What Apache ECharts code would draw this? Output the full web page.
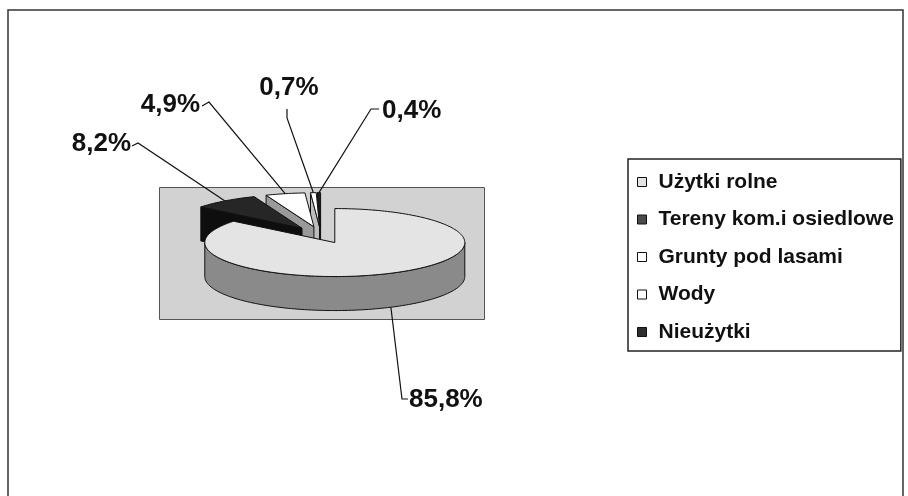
<!DOCTYPE html>
<html>
	<head>
		<meta charset="utf-8" />
		<title>Struktura użytkowania gruntów</title>
		<style>
			html, body {
				width: 100%;
				height: 100%;
				margin: 0;
				padding: 0;
				background: #fff;
			}
			#main {
				width: 908px;
				height: 496px;
			}
		</style>
	</head>
	<body>
		<div id="main"></div>
		<script src="https://cdn.jsdelivr.net/npm/echarts@6/dist/echarts.min.js"></script>
		<script>
			// dane
			var categories = ['Użytki rolne', 'Tereny kom.i osiedlowe', 'Grunty pod lasami', 'Wody', 'Nieużytki'];
			var shares = [85.8, 8.2, 4.9, 0.7, 0.4];

			// wygląd plastrów
			var topColors = ['#e4e4e4', '#262626', '#ffffff', '#ffffff', '#1e1e1e'];
			var sideColors = ['#8a8a8a', '#0e0e0e', '#9a9a9a', '#bdbdbd', '#0e0e0e'];
			var legendColors = ['#e4e4e4', '#4a4a4a', '#ffffff', '#ffffff', '#2e2e2e'];

			// położenie etykiet i linii odniesienia
			var labelLayout = [
				{ x: 409, y: 400, align: 'left', elbow: [402, 399], end: [408, 399] },
				{ x: 131, y: 144, align: 'right', elbow: [138, 143], end: [132, 146] },
				{ x: 200, y: 105, align: 'right', elbow: [209, 102], end: [202, 106] },
				{ x: 289, y: 88, align: 'center', elbow: [287, 118], end: [287, 109] },
				{ x: 382, y: 111, align: 'left', elbow: [371, 109], end: [379, 109] }
			];

			var CX = 321, CY = 235, RX = 130, RY = 34, DEPTH = 34, EXPLODE = 32;
			var K = RY / RX;
			var total = shares.reduce(function (a, b) { return a + b; }, 0);
			var startFrac = [];
			var acc = 0;
			for (var i = 0; i < shares.length; i++) {
				startFrac.push(acc / total);
				acc += shares[i];
			}

			function rad(d) { return d * Math.PI / 180; }

			function arc(c, a0, a1, h) {
				var pts = [];
				var n = Math.max(2, Math.ceil(Math.abs(a0 - a1) / 1.5));
				for (var j = 0; j <= n; j++) {
					var t = rad(a0 + (a1 - a0) * j / n);
					pts.push([c[0] + RX * Math.cos(t), c[1] - RY * Math.sin(t) + h]);
				}
				return pts;
			}

			function pctText(v) {
				return v.toFixed(1).replace('.', ',') + '%';
			}

			function makeRender(idx) {
				return function (params, api) {
					var v = api.value(0);
					var a0 = 90 - 360 * startFrac[idx];
					var a1 = a0 - 360 * v / total;
					var mid = (a0 + a1) / 2;
					var c = [CX + EXPLODE * Math.cos(rad(mid)), CY - EXPLODE * K * Math.sin(rad(mid))];
					var children = [];
					var edge = { stroke: '#111', lineWidth: 1 };

					// ściany boczne (promieniowe)
					[[a0, Math.cos(rad(a0)) < -1e-6], [a1, Math.cos(rad(a1)) > 1e-6]].forEach(function (w) {
						if (!w[1]) return;
						var t = rad(w[0]);
						var p = [c[0] + RX * Math.cos(t), c[1] - RY * Math.sin(t)];
						children.push({
							type: 'polygon',
							shape: { points: [c, p, [p[0], p[1] + DEPTH], [c[0], c[1] + DEPTH]] },
							style: { fill: sideColors[idx], stroke: edge.stroke, lineWidth: edge.lineWidth }
						});
					});

					// ściana zewnętrzna – tylko przednia część
					for (var k = -3; k <= 2; k++) {
						var lo = Math.max(a1, 360 * k + 180);
						var hi = Math.min(a0, 360 * k + 360);
						if (hi - lo > 0.01) {
							var pts = arc(c, hi, lo, 0).concat(arc(c, hi, lo, DEPTH).reverse());
							children.push({
								type: 'polygon',
								shape: { points: pts },
								style: { fill: sideColors[idx], stroke: edge.stroke, lineWidth: edge.lineWidth }
							});
						}
					}

					// wierzch
					children.push({
						type: 'polygon',
						shape: { points: [c].concat(arc(c, a0, a1, 0)) },
						style: { fill: topColors[idx], stroke: edge.stroke, lineWidth: edge.lineWidth }
					});

					// linia odniesienia i etykieta
					var tm = rad(mid);
					var front = Math.sin(tm) < 0;
					var anchor = [c[0] + RX * Math.cos(tm), c[1] - RY * Math.sin(tm) + (front ? DEPTH : 0)];
					var L = labelLayout[idx];
					children.push({
						type: 'polyline',
						shape: { points: [anchor, L.elbow, L.end] },
						style: { stroke: '#111', lineWidth: 1.2, fill: null }
					});
					children.push({
						type: 'text',
						style: {
							text: pctText(v),
							x: L.x,
							y: L.y,
							align: L.align,
							verticalAlign: 'middle',
							font: 'bold 26px "Liberation Sans", Arial, sans-serif',
							fill: '#111'
						}
					});
					return { type: 'group', children: children };
				};
			}

			// kolejność rysowania: od tyłu do przodu
			var order = categories.map(function (n, i) { return i; });
			order.sort(function (p, q) {
				var mp = 90 - 360 * (startFrac[p] + shares[p] / total / 2);
				var mq = 90 - 360 * (startFrac[q] + shares[q] / total / 2);
				return Math.sin(rad(mq)) - Math.sin(rad(mp));
			});

			var series = order.map(function (idx, rank) {
				return {
					type: 'custom',
					name: categories[idx],
					coordinateSystem: 'none',
					data: [shares[idx]],
					itemStyle: { color: legendColors[idx] },
					renderItem: makeRender(idx),
					z: 2 + rank,
					silent: true
				};
			});

			var chart = echarts.init(document.getElementById('main'), null, { renderer: 'canvas' });
			chart.setOption({
				animation: false,
				backgroundColor: '#fff',
				graphic: [
					{
						type: 'rect',
						shape: { x: 8, y: 10, width: 895, height: 500 },
						style: { fill: '#fff', stroke: '#333', lineWidth: 1.5 },
						z: 0
					},
					{
						type: 'rect',
						shape: { x: 159.5, y: 187.5, width: 325, height: 132 },
						style: { fill: '#d2d2d2', stroke: '#555', lineWidth: 1 },
						z: 0
					}
				],
				legend: {
					data: categories,
					orient: 'vertical',
					left: 628,
					top: 159,
					padding: [12.5, 7, 8.5, 9],
					itemWidth: 9,
					itemHeight: 9,
					itemGap: 16.5,
					icon: 'rect',
					selectedMode: false,
					backgroundColor: '#fff',
					borderColor: '#222',
					borderWidth: 1.5,
					itemStyle: { borderColor: '#111', borderWidth: 1 },
					textStyle: {
						fontFamily: '"Liberation Sans", Arial, sans-serif',
						fontSize: 21,
						fontWeight: 'bold',
						color: '#111',
						padding: [0, 0, 0, 7]
					}
				},
				series: series
			});
		</script>
	</body>
</html>
